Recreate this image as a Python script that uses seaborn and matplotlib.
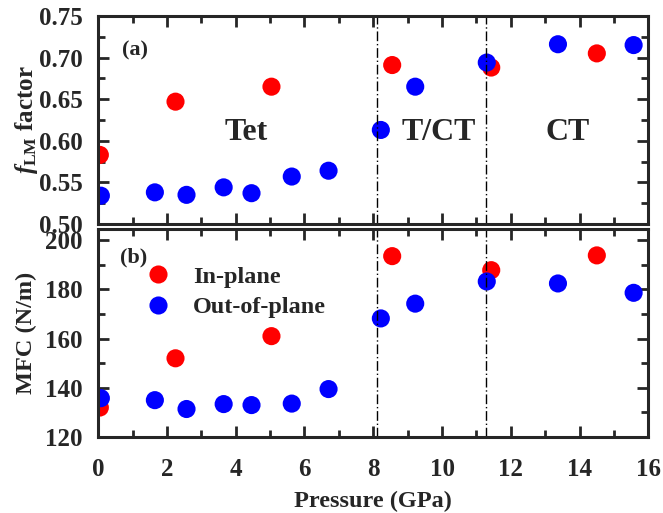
import numpy as np
import pandas as pd
import matplotlib
matplotlib.use("Agg")
import matplotlib.pyplot as plt
import seaborn as sns
from matplotlib.ticker import MultipleLocator

sns.set_style("ticks")
plt.rcParams['font.family'] = ['Liberation Serif', 'DejaVu Serif']
plt.rcParams['font.weight'] = 'bold'
plt.rcParams['mathtext.fontset'] = 'custom'
plt.rcParams['mathtext.rm'] = 'Liberation Serif:bold'
plt.rcParams['mathtext.it'] = 'Liberation Serif:italic:bold'
plt.rcParams['mathtext.bf'] = 'Liberation Serif:bold'

# Data
p_in = [0.05, 2.25, 5.04, 8.55, 11.43, 14.5]
f_in = [0.583, 0.647, 0.665, 0.691, 0.688, 0.705]
mfc_in = [132.0, 152.0, 161.0, 193.5, 187.8, 193.8]

p_out = [0.08, 1.65, 2.57, 3.65, 4.46, 5.63, 6.7, 8.22, 9.22, 11.3, 13.37, 15.57]
f_out = [0.534, 0.538, 0.535, 0.544, 0.537, 0.557, 0.564, 0.613, 0.665, 0.694, 0.716, 0.715]
mfc_out = [135.8, 135.0, 131.4, 133.4, 133.0, 133.6, 139.5, 168.2, 174.2, 183.2, 182.4, 178.6]

phase_bounds = [8.12, 11.28]
labels = ["In-plane", "Out-of-plane"]

df = pd.DataFrame({
    "P": p_in + p_out,
    "f": f_in + f_out,
    "mfc": mfc_in + mfc_out,
    "type": [labels[0]] * len(p_in) + [labels[1]] * len(p_out),
})
palette = {labels[0]: "#ff0000", labels[1]: "#0000ff"}

fig = plt.figure(figsize=(6.63, 5.13), dpi=100)
ax1 = fig.add_axes([0.148, 0.5634, 0.830, 0.4055])
ax2 = fig.add_axes([0.148, 0.148, 0.830, 0.4055])

sns.scatterplot(data=df, x="P", y="f", hue="type", palette=palette, s=170,
                edgecolor="none", ax=ax1, legend=False)
sns.scatterplot(data=df, x="P", y="mfc", hue="type", palette=palette, s=170,
                edgecolor="none", ax=ax2)

for ax in (ax1, ax2):
    ax.set_xlim(0, 16)
    ax.xaxis.set_major_locator(MultipleLocator(2))
    ax.xaxis.set_minor_locator(MultipleLocator(1))
    ax.tick_params(which='both', direction='in', top=True, right=True, width=2)
    ax.tick_params(which='major', length=8, labelsize=18)
    ax.tick_params(which='minor', length=5)
    ax.tick_params(axis='y', which='major', pad=11)
    ax.tick_params(axis='x', which='major', pad=15)
    for sp in ax.spines.values():
        sp.set_linewidth(2.2)
    for xb in phase_bounds:
        ax.axvline(xb, color='black', lw=1.0, ls=(0, (7, 2, 1, 2)))

ax1.set_ylim(0.50, 0.75)
ax1.set_yticks([0.50, 0.55, 0.60, 0.65, 0.70, 0.75])
ax1.set_yticklabels(["0.50", "0.55", "0.60", "0.65", "0.70", "0.75"])
ax1.yaxis.set_minor_locator(MultipleLocator(0.025))
ax1.tick_params(labelbottom=False)
ax1.set_xlabel("")
ax1.set_ylabel(r"$f_{\rm LM}$ factor", fontsize=18, fontweight='bold', labelpad=-1)

ax2.set_ylim(120, 204.5)
ax2.set_yticks([120, 140, 160, 180, 200])
ax2.yaxis.set_minor_locator(MultipleLocator(10))
ax2.set_xlabel("Pressure (GPa)", fontsize=17.5, fontweight='bold', labelpad=7)
ax2.set_ylabel("MFC (N/m)", fontsize=17.5, fontweight='bold', labelpad=6)

for ax in (ax1, ax2):
    for lab in ax.get_xticklabels() + ax.get_yticklabels():
        lab.set_fontweight('bold')

ax1.text(0.043, 0.81, "(a)", transform=ax1.transAxes, fontsize=16, fontweight='bold')
ax1.text(4.3, 0.6105, "Tet", fontsize=23, fontweight='bold', ha='center', va='center')
ax1.text(9.9, 0.6105, "T/CT", fontsize=23, fontweight='bold', ha='center', va='center')
ax1.text(13.65, 0.6105, "CT", fontsize=23, fontweight='bold', ha='center', va='center')
ax2.text(0.04, 0.84, "(b)", transform=ax2.transAxes, fontsize=16, fontweight='bold')

leg = ax2.legend(loc='upper left', bbox_to_anchor=(0.025, 0.93), frameon=False,
                 prop={'weight': 'bold', 'size': 17.5}, handletextpad=0.45,
                 labelspacing=0.35, markerscale=1.0)

fig.savefig("out.png", dpi=100)
